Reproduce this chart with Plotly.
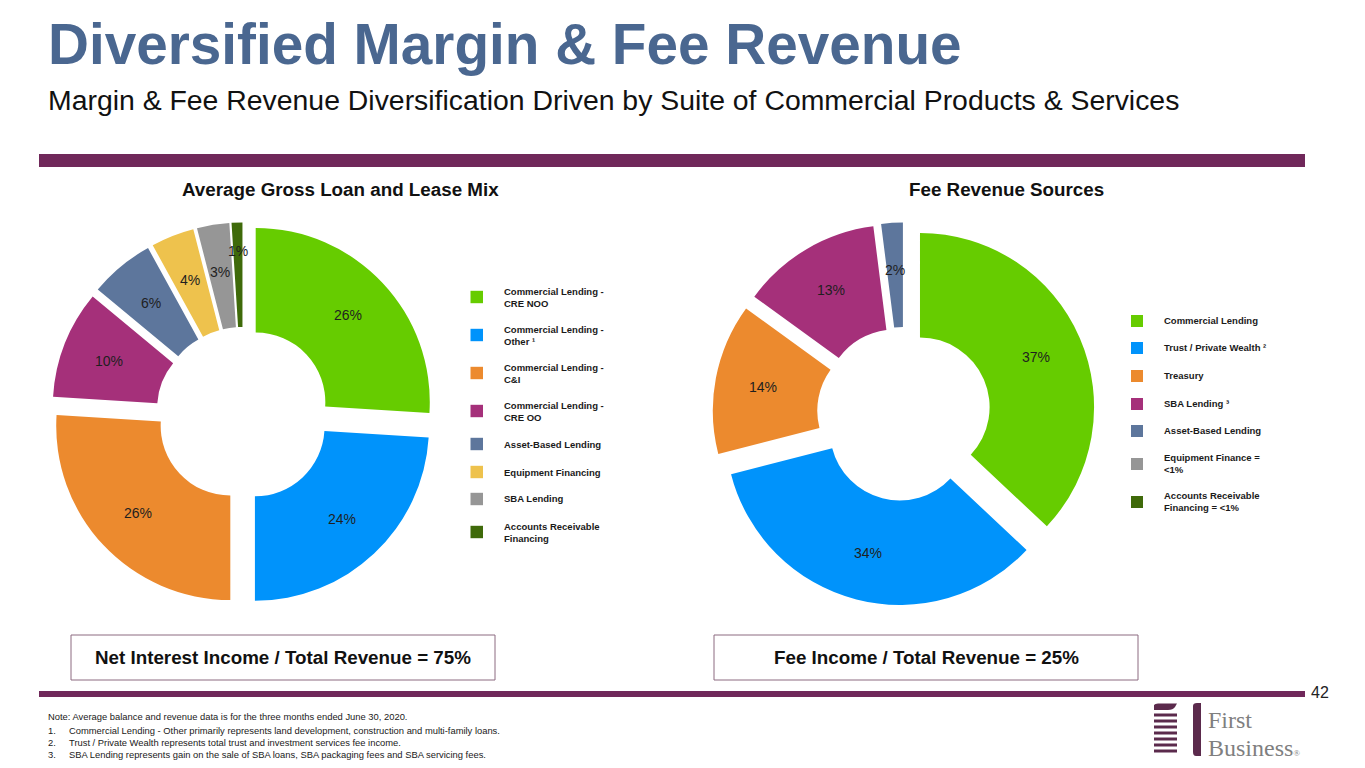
import math
import plotly.graph_objects as go

# page body keeps an 8px margin, so the figure is drawn 8px smaller and offset
OFF = 8
W, H = 1365 - OFF, 768 - OFF

# ---------------- data ----------------
loan_labels = ["Commercial Lending -<br>CRE NOO", "Commercial Lending -<br>Other \u00b9",
               "Commercial Lending -<br>C&I", "Commercial Lending -<br>CRE OO",
               "Asset-Based Lending", "Equipment Financing", "SBA Lending",
               "Accounts Receivable<br>Financing"]
loan_values = [26, 24, 26, 10, 6, 4, 3, 1]
loan_colors = ["#66CC00", "#0093FB", "#EC8A2E", "#A5307A", "#5D769C", "#EEC24D", "#969696", "#3F6A0A"]

fee_labels = ["Commercial Lending", "Trust / Private Wealth \u00b2", "Treasury", "SBA Lending \u00b3",
              "Asset-Based Lending", "Equipment Finance =<br><1%", "Accounts Receivable<br>Financing = <1%"]
fee_values = [37, 34, 14, 13, 2, 0, 0]
fee_colors = ["#66CC00", "#0093FB", "#EC8A2E", "#A5307A", "#5D769C", "#969696", "#3F6A0A"]

loan_title = "Average Gross Loan and Lease Mix"
fee_title = "Fee Revenue Sources"
nii_text = "Net Interest Income / Total Revenue = 75%"
fee_box_text = "Fee Income / Total Revenue = 25%"

HALF = 191.5        # half of pie domain, px
LABEL_R = 144       # label distance from pie centre, px
LABEL_R_THIN = 163  # labels of very thin slices sit further out


def px(x):
    return (x - OFF) / W


def py(y):
    return 1 - (y - OFF) / H


def pie_domain(cx, cy, half):
    return dict(x=[px(cx - half), px(cx + half)], y=[py(cy + half), py(cy - half)])


def pct_text(vals):
    return [f"{v}%" if v >= 1 else "" for v in vals]


def mid_angles(vals):
    tot = sum(vals)
    out, cum = [], 0
    for v in vals:
        out.append((cum + v / 2) / tot * 360)
        cum += v
    return out


fig = go.Figure()
ann = []
layout_axes = {}
pies = [(loan_labels, loan_values, loan_colors, 243, ""),
        (fee_labels, fee_values, fee_colors, 904, "2")]
for labels, vals, cols, cx, sfx in pies:
    dom = pie_domain(cx, 414, HALF)
    fig.add_trace(go.Pie(
        labels=labels, values=vals, marker=dict(colors=cols, line=dict(width=0)),
        hole=0.40, pull=[0.1] * len(vals), sort=False, direction="clockwise", rotation=0,
        textinfo="none", domain=dom, showlegend=False, hoverinfo="label+value"))
    # invisible axes over the pie, in px units from the pie centre, to carry the % labels
    layout_axes["xaxis" + sfx] = dict(domain=dom["x"], range=[-HALF, HALF], visible=False, fixedrange=True)
    layout_axes["yaxis" + sfx] = dict(domain=dom["y"], range=[-HALF, HALF], visible=False, fixedrange=True)
    for t, v, ang in zip(pct_text(vals), vals, mid_angles(vals)):
        if not t:
            continue
        a = math.radians(ang)
        r = LABEL_R_THIN if v < 2 else LABEL_R
        ann.append(dict(text=t, xref="x" + sfx, yref="y" + sfx,
                        x=r * math.sin(a), y=r * math.cos(a),
                        xanchor="center", yanchor="middle",
                        font=dict(family="Liberation Sans, Arial", size=14, color="#1F1F1F")))

shapes = []

PURPLE = "#70285A"
# header bar and footer bar
shapes.append(dict(type="rect", xref="paper", yref="paper", x0=px(39), x1=px(1305), y0=py(167), y1=py(154),
                   fillcolor=PURPLE, line=dict(width=0), layer="below"))
shapes.append(dict(type="rect", xref="paper", yref="paper", x0=px(39), x1=px(1305), y0=py(697), y1=py(691),
                   fillcolor=PURPLE, line=dict(width=0), layer="below"))

# title texts
ann.append(dict(text="<b>Diversified Margin & Fee Revenue</b>", x=px(46), y=py(44), xanchor="left", yanchor="middle",
                font=dict(family="Liberation Sans, Arial", size=56.7, color="#4A6790")))
ann.append(dict(text="Margin & Fee Revenue Diversification Driven by Suite of Commercial Products & Services",
                x=px(46), y=py(100), xanchor="left", yanchor="middle",
                font=dict(family="Liberation Sans, Arial", size=28.4, color="#111111")))
ann.append(dict(text=f"<b>{loan_title}</b>", x=px(340), y=py(190), xanchor="center", yanchor="middle",
                font=dict(family="Liberation Sans, Arial", size=18.8, color="#111111")))
ann.append(dict(text=f"<b>{fee_title}</b>", x=px(1006), y=py(190), xanchor="center", yanchor="middle",
                font=dict(family="Liberation Sans, Arial", size=18.8, color="#111111")))

# boxes
for (x0, x1, txt) in [(71, 495, nii_text), (714, 1138, fee_box_text)]:
    shapes.append(dict(type="rect", xref="paper", yref="paper", x0=px(x0), x1=px(x1), y0=py(680), y1=py(635),
                       fillcolor="white", line=dict(width=1, color="#8C6A80")))
    ann.append(dict(text=f"<b>{txt}</b>", x=px((x0 + x1) / 2), y=py(657.5), xanchor="center", yanchor="middle",
                    font=dict(family="Liberation Sans, Arial", size=18.8, color="#111111")))

# legends (layout only)
loan_leg_y = [297, 335, 373, 411, 444, 472, 499, 532]
for lab, col, yy in zip(loan_labels, loan_colors, loan_leg_y):
    shapes.append(dict(type="rect", xref="paper", yref="paper", x0=px(470.5), x1=px(483), y0=py(yy + 6.2),
                       y1=py(yy - 6.2), fillcolor=col, line=dict(width=0)))
    ann.append(dict(text=f"<b>{lab}</b>", x=px(502), y=py(yy), xanchor="left", yanchor="middle", align="left",
                    font=dict(family="Liberation Sans, Arial", size=9.5, color="#1A1A1A")))

fee_leg_y = [321, 348, 376, 404, 431, 464, 502]
for lab, col, yy in zip(fee_labels, fee_colors, fee_leg_y):
    shapes.append(dict(type="rect", xref="paper", yref="paper", x0=px(1131), x1=px(1143), y0=py(yy + 6),
                       y1=py(yy - 6), fillcolor=col, line=dict(width=0)))
    ann.append(dict(text=f"<b>{lab}</b>", x=px(1162), y=py(yy - 0.5), xanchor="left", yanchor="middle", align="left",
                    font=dict(family="Liberation Sans, Arial", size=9.5, color="#1A1A1A")))

# footnotes
notes = [("", "Note: Average balance and revenue data is for the three months ended June 30, 2020.", 716.5),
         ("1.", "Commercial Lending - Other primarily represents land development, construction and multi-family loans.", 730),
         ("2.", "Trust / Private Wealth represents total trust and investment services fee income.", 742),
         ("3.", "SBA Lending represents gain on the sale of SBA loans, SBA packaging fees and SBA servicing fees.", 754)]
NF = dict(family="Liberation Sans, Arial", size=9.4, color="#1A1A1A")
for num, txt, yy in notes:
    if num:
        ann.append(dict(text=num, x=px(46), y=py(yy), xanchor="left", yanchor="middle", font=NF))
        ann.append(dict(text=txt, x=px(67), y=py(yy), xanchor="left", yanchor="middle", font=NF))
    else:
        ann.append(dict(text=txt, x=px(46), y=py(yy), xanchor="left", yanchor="middle", font=NF))

# page number
ann.append(dict(text="42", x=px(1309), y=py(692), xanchor="left", yanchor="middle",
                font=dict(family="Liberation Sans, Arial", size=16, color="#222222")))

# logo
LOGO = "#5B2A4C"
bars_y = [(713.5, 716.5), (719.5, 722.5), (725.5, 728.5), (731.5, 734.5), (737.5, 740.5),
          (743.5, 746.5), (749.5, 752.5)]
shapes.append(dict(type="path", xref="paper", yref="paper",
                   path=f"M {px(1154)} {py(710)} L {px(1154)} {py(705)} Q {px(1155)} {py(703.5)} {px(1158)} {py(703.5)} "
                        f"L {px(1177)} {py(703.5)} L {px(1175)} {py(707)} Q {px(1173)} {py(710)} {px(1168)} {py(710)} Z",
                   fillcolor=LOGO, line=dict(width=0)))
for (a, b) in bars_y:
    shapes.append(dict(type="rect", xref="paper", yref="paper", x0=px(1154), x1=px(1177), y0=py(b), y1=py(a),
                       fillcolor=LOGO, line=dict(width=0)))
shapes.append(dict(type="path", xref="paper", yref="paper",
                   path=f"M {px(1193)} {py(706)} Q {px(1193)} {py(703)} {px(1197)} {py(703)} L {px(1201)} {py(703)} "
                        f"L {px(1201)} {py(756)} L {px(1196)} {py(756)} Q {px(1193)} {py(756)} {px(1193)} {py(752)} Z",
                   fillcolor=LOGO, line=dict(width=0)))
LF = dict(family="Liberation Serif, Times New Roman", size=24, color="#7F7F7F")
ann.append(dict(text="First", x=px(1206), y=py(720), xanchor="left", yanchor="middle", font=LF))
ann.append(dict(text="Business<span style='font-size:9px'>\u00ae</span>", x=px(1206), y=py(747.5), xanchor="left",
                yanchor="middle", font=LF))

for a in ann:
    a.setdefault("xref", "paper")
    a.setdefault("yref", "paper")
    a.setdefault("showarrow", False)

fig.update_layout(
    width=W, height=H, margin=dict(l=0, r=0, t=0, b=0),
    paper_bgcolor="white", plot_bgcolor="rgba(0,0,0,0)",
    shapes=shapes, annotations=ann,
    font=dict(family="Liberation Sans, Arial"),
    **layout_axes,
)

fig.write_html("out.html")
